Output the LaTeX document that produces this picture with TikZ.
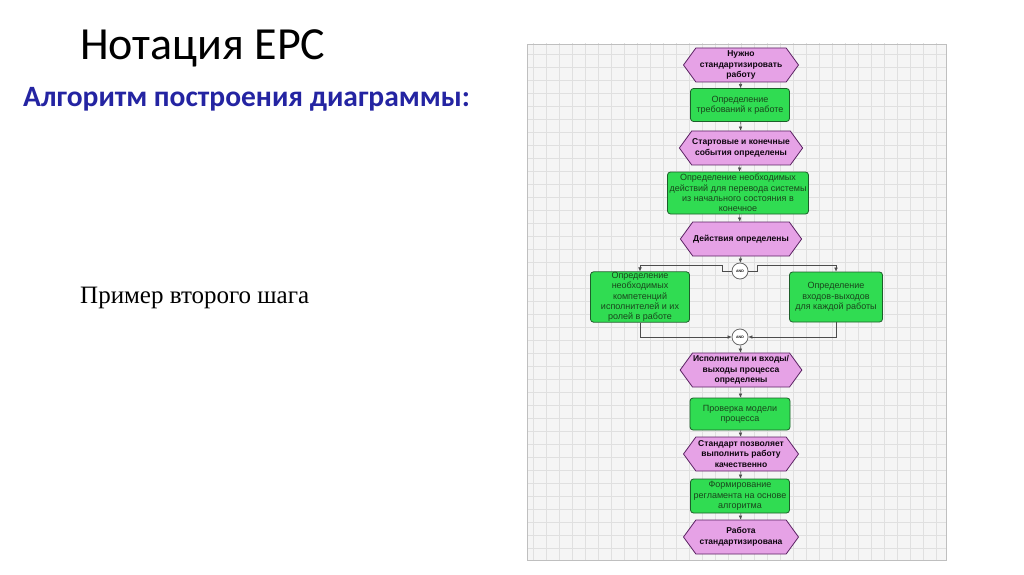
\documentclass[tikz,border=0pt]{standalone}
\usepackage{fontspec}
\setmainfont{Carlito}
\newfontfamily\epcfont{Liberation Sans}
\newfontfamily\textserif{Liberation Serif}
\definecolor{eventfill}{HTML}{E6A2E6}
\definecolor{eventline}{HTML}{5A2262}
\definecolor{funcfill}{HTML}{30DC52}
\definecolor{funcline}{HTML}{1D5E2A}
\definecolor{functext}{HTML}{1A451C}
\definecolor{subblue}{HTML}{2424A2}
\usetikzlibrary{arrows.meta, shapes.symbols, positioning}

\begin{document}
\begin{tikzpicture}[x=1pt, y=1pt, >=Latex,
    event/.style={signal, signal to=east and west, signal pointer angle=108,
                  draw=eventline, fill=eventfill, thick, inner sep=0.5pt,
                  minimum width=115, minimum height=34, align=center,
                  font=\epcfont\fontsize{8.5}{10.5}\selectfont\bfseries, text=black!85!eventline},
    func/.style={rectangle, rounded corners=3pt, draw=funcline, fill=funcfill, thick,
                 inner sep=0.5pt, align=center, text=functext,
                 font=\epcfont\fontsize{9}{10.3}\selectfont},
    andop/.style={circle, draw=black!60, fill=white, thick, minimum size=16, inner sep=0pt,
                  font=\epcfont\fontsize{3.5}{4}\selectfont\bfseries},
    flow/.style={->, >={Latex[length=4pt, width=3.5pt]}, black!70},
    gridline/.style={black!12, line width=0.5pt}]
      \useasboundingbox (0,0) rectangle (1024,574);
      \fill[white] (0,0) rectangle (1024,574);
      % Slide title and text
      \node[anchor=base west, inner sep=0pt, font=\fontsize{46}{52}\selectfont] (title) at (80,514) {Нотация EPC};
      \node[anchor=base west, inner sep=0pt, text=subblue, font=\fontsize{29.5}{34}\selectfont\bfseries] (sub) at (23,467) {Алгоритм построения диаграммы:};
      \node[anchor=base west, inner sep=0pt, font=\textserif\fontsize{25}{28}\selectfont] (step) at (80,271) {Пример второго шага};
      % Grid panel
      \fill[black!4] (527,14) rectangle (946,530);
      \begin{scope}
        \clip (527,14) rectangle (946,530);
        \draw[gridline, step=13] (520,10) grid (950,535);
      \end{scope}
      \draw[black!25] (527,14) rectangle (946,530);
      % Events and functions
      \node[event] (e1) at (741,509) {Нужно\\стандартизировать\\работу};
      \node[func, minimum width=99, minimum height=33] (f1) at (740,469) {Определение\\требований к работе};
      \node[event] (e2) at (741,426) {Стартовые и конечные\\события определены};
      \node[func, minimum width=141, minimum height=42] (f2) at (738,381) {Определение необходимых\\действий для перевода системы\\из начального состояния в\\конечное};
      \node[event] (e3) at (741,335) {Действия определены};
      % Split
      \node[andop] (and1) at (740,303) {AND};
      \node[func, minimum width=99, minimum height=50] (f3) at (640,277) {Определение\\необходимых\\компетенций\\исполнителей и их\\ролей в работе};
      \node[func, minimum width=93, minimum height=50] (f4) at (836,277) {Определение\\входов-выходов\\для каждой работы};
      \node[andop] (and2) at (740,237) {AND};
      % Rest of the chain
      \node[event] (e4) at (741,204) {Исполнители и входы/\\выходы процесса\\определены};
      \node[func, minimum width=100, minimum height=32] (f5) at (740,160) {Проверка модели\\процесса};
      \node[event] (e5) at (741,120) {Стандарт позволяет\\выполнить работу\\качественно};
      \node[func, minimum width=99, minimum height=34] (f6) at (740,78) {Формирование\\регламента на основе\\алгоритма};
      \node[event] (e6) at (741,37) {Работа\\стандартизирована};
      % Control flow
      \draw[flow] (e1) -- (f1);
      \draw[flow] (f1) -- (e2);
      \draw[flow] (e2) -- (f2);
      \draw[flow] (f2) -- (e3);
      \draw[flow] (e3) -- (and1);
      \draw[flow] (and1.west) -- ++(-9,0) -- ++(0,6) -| (f3.north);
      \draw[flow] (and1.east) -- ++(9,0) -- ++(0,6) -| (f4.north);
      \draw[flow] (f3.south) |- (and2.west);
      \draw[flow] (f4.south) |- (and2.east);
      \draw[flow] (and2) -- (e4);
      \draw[flow] (e4) -- (f5);
      \draw[flow] (f5) -- (e5);
      \draw[flow] (e5) -- (f6);
      \draw[flow] (f6) -- (e6);
\end{tikzpicture}
\end{document}
